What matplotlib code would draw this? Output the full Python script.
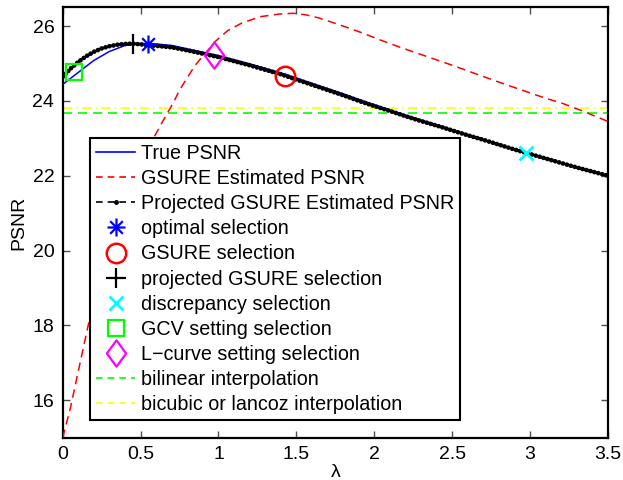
import numpy as np
import matplotlib
matplotlib.use("Agg")
import matplotlib.pyplot as plt
from matplotlib.lines import Line2D
from matplotlib.path import Path

plt.rcParams['font.family'] = ['Liberation Sans', 'DejaVu Sans']

# ---- data ----
lam_true = [0.0, 0.1, 0.2, 0.3, 0.4, 0.5, 0.6, 0.7, 0.8, 0.9, 1.0, 1.1, 1.2, 1.3,
            1.4, 1.5, 1.6, 1.7, 1.8, 1.9, 2.0, 2.1, 2.2, 2.3, 2.4, 2.5, 2.6, 2.7,
            2.8, 2.9, 3.0, 3.1, 3.2, 3.3, 3.4, 3.5]
psnr_true = [24.44, 24.76, 25.08, 25.32, 25.48, 25.53, 25.52, 25.48, 25.39, 25.30,
             25.21, 25.10, 24.99, 24.87, 24.75, 24.61, 24.47, 24.33, 24.19, 24.04,
             23.90, 23.76, 23.62, 23.49, 23.36, 23.23, 23.10, 22.97, 22.84, 22.71,
             22.59, 22.47, 22.35, 22.23, 22.11, 22.00]

lam_proj = [0.0, 0.05, 0.1, 0.15, 0.2, 0.25, 0.3, 0.35, 0.4, 0.45, 0.5, 0.6, 0.7,
            0.8, 0.9, 1.0, 1.1, 1.2, 1.3, 1.4, 1.5, 1.6, 1.7, 1.8, 1.9, 2.0, 2.1,
            2.2, 2.3, 2.4, 2.5, 2.6, 2.7, 2.8, 2.9, 3.0, 3.1, 3.2, 3.3, 3.4, 3.5]
psnr_proj = [24.64, 24.86, 25.04, 25.19, 25.31, 25.40, 25.46, 25.50, 25.52, 25.53,
             25.51, 25.47, 25.43, 25.35, 25.26, 25.17, 25.06, 24.95, 24.83, 24.71,
             24.57, 24.43, 24.29, 24.15, 24.00, 23.86, 23.73, 23.59, 23.46, 23.34,
             23.21, 23.08, 22.96, 22.83, 22.70, 22.58, 22.46, 22.34, 22.22, 22.11,
             22.00]

lam_gsure = [0.0, 0.05, 0.09, 0.169, 0.25, 0.35, 0.45, 0.55, 0.635, 0.71, 0.753,
             0.85, 0.98, 1.06, 1.15, 1.27, 1.39, 1.48, 1.56, 1.64, 1.714, 1.82,
             1.927, 2.03, 2.14, 2.25, 2.355, 2.46, 2.568, 2.68, 2.78, 2.89, 2.995,
             3.1, 3.21, 3.33, 3.465, 3.5]
psnr_gsure = [15.0, 15.8, 16.58, 18.1, 19.4, 20.7, 21.9, 22.75, 23.4, 23.95, 24.31,
              24.95, 25.59, 25.88, 26.08, 26.25, 26.32, 26.34, 26.30, 26.22, 26.12,
              25.97, 25.81, 25.64, 25.47, 25.31, 25.16, 25.01, 24.85, 24.68, 24.53,
              24.37, 24.22, 24.07, 23.93, 23.74, 23.51, 23.45]

opt_sel = (0.55, 25.52)
gsure_sel = (1.425, 24.67)
proj_sel = (0.45, 25.52)
disc_sel = (2.974, 22.60)
gcv_sel = (0.072, 24.76)
lcurve_sel = (0.972, 25.22)

bilinear_psnr = 23.68
bicubic_psnr = 23.81

labels = ['True PSNR', 'GSURE Estimated PSNR', 'Projected GSURE Estimated PSNR',
          'optimal selection', 'GSURE selection', 'projected GSURE selection',
          'discrepancy selection', 'GCV setting selection', 'L\u2212curve setting selection',
          'bilinear interpolation', 'bicubic or lancoz interpolation']
xticks = [0, 0.5, 1, 1.5, 2, 2.5, 3, 3.5]
xticklabels = ['0', '0.5', '1', '1.5', '2', '2.5', '3', '3.5']
yticks = [16, 18, 20, 22, 24, 26]

# ---- custom markers ----
asterisk = Path([(0, -1), (0, 1), (-1, 0), (1, 0), (-0.7, -0.7), (0.7, 0.7),
                 (-0.7, 0.7), (0.7, -0.7)],
                [Path.MOVETO, Path.LINETO] * 4)
diamond = Path([(0, 1), (0.73, 0), (0, -1), (-0.73, 0), (0, 1)],
               [Path.MOVETO, Path.LINETO, Path.LINETO, Path.LINETO, Path.CLOSEPOLY])

fig = plt.figure(figsize=(6.23, 4.80), dpi=100)
ax = fig.add_axes([0.1006, 0.0881, 0.8753, 0.8967])

ax.plot(lam_true, psnr_true, color=(0, 0, 1), lw=1.1, zorder=3)
ax.plot(lam_gsure, psnr_gsure, color=(1, 0, 0), lw=1.1, dashes=(5.5, 3.5), zorder=3)
ax.plot(lam_proj, psnr_proj, color='k', lw=3.4, linestyle=(0, (0.01, 0.85)),
        dash_capstyle='round', zorder=4)
ax.axhline(bilinear_psnr, color=(0, 1, 0), lw=1.2, dashes=(5.5, 3.5), zorder=2)
ax.axhline(bicubic_psnr, color=(1, 1, 0), lw=1.2, dashes=(5.5, 2.5, 1, 2.5), zorder=2)

ms_kw = dict(linestyle='none', zorder=5)
ax.plot(*opt_sel, marker=asterisk, ms=13, mec=(0, 0, 1), mfc='none', mew=1.6, **ms_kw)
ax.plot(*gsure_sel, marker='o', ms=14, mec=(1, 0, 0), mfc='none', mew=1.8, **ms_kw)
ax.plot(*proj_sel, marker='+', ms=14, mec='k', mew=1.6, **ms_kw)
ax.plot(*disc_sel, marker='x', ms=10, mec=(0, 1, 1), mew=2.0, **ms_kw)
ax.plot(*gcv_sel, marker='s', ms=11, mec=(0, 1, 0), mfc='none', mew=1.6, **ms_kw)
ax.plot(*lcurve_sel, marker=diamond, ms=19, mec=(1, 0, 1), mfc='none', mew=1.6, **ms_kw)

ax.set_xlim(0, 3.5)
ax.set_ylim(15, 26.5)
ax.set_xticks(xticks)
ax.set_xticklabels(xticklabels)
ax.set_yticks(yticks)
ax.tick_params(direction='in', length=5, width=1, top=True, right=True,
               labelsize=14, pad=6, color='0.3')
for s in ax.spines.values():
    s.set_linewidth(1.6)
ax.set_xlabel('\u03bb', fontsize=14, labelpad=1)
ax.set_ylabel('PSNR', fontsize=14, labelpad=4)

handles = [
    Line2D([], [], color=(0, 0, 1), lw=1.2),
    Line2D([], [], color=(1, 0, 0), lw=1.2, dashes=(4, 3)),
    Line2D([], [], color='k', lw=1.2, dashes=(4, 3), marker='.', ms=5),
    Line2D([], [], linestyle='none', marker=asterisk, ms=13, mec=(0, 0, 1), mew=1.6),
    Line2D([], [], linestyle='none', marker='o', ms=14, mec=(1, 0, 0), mfc='none', mew=1.8),
    Line2D([], [], linestyle='none', marker='+', ms=14, mec='k', mew=1.6),
    Line2D([], [], linestyle='none', marker='x', ms=10, mec=(0, 1, 1), mew=2.0),
    Line2D([], [], linestyle='none', marker='s', ms=11, mec=(0, 1, 0), mfc='none', mew=1.6),
    Line2D([], [], linestyle='none', marker=diamond, ms=19, mec=(1, 0, 1), mfc='none', mew=1.6),
    Line2D([], [], color=(0, 1, 0), lw=1.2, dashes=(4, 3)),
    Line2D([], [], color=(1, 1, 0), lw=1.2, dashes=(4, 3)),
]
leg = ax.legend(handles, labels, loc='lower left', bbox_to_anchor=(0.05, 0.041),
                fontsize=14.2, frameon=True, fancybox=False, framealpha=1,
                edgecolor='k', handlelength=2.0, handletextpad=0.3,
                labelspacing=0.31, borderpad=0.3, borderaxespad=0)
leg.get_frame().set_linewidth(1.5)
leg.set_zorder(10)

fig.savefig('out.png', dpi=100)
